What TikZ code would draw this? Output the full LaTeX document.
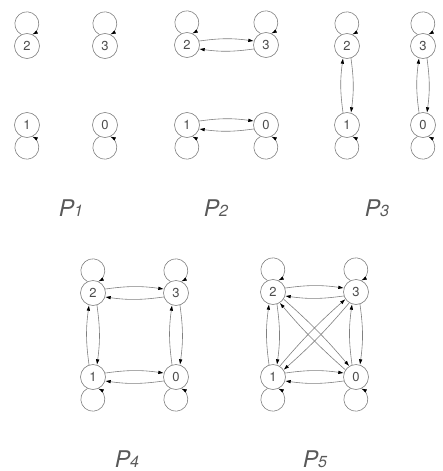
\documentclass[tikz,border=0pt]{standalone}
\usepackage{fontspec}
\setmainfont{TeX Gyre Heros}
\usetikzlibrary{arrows.meta}
\newcommand\looptop[1]{\draw[edge] (#1.116) arc[start angle=243,end angle=-63,radius=12];}
\newcommand\loopbot[1]{\draw[edge] (#1.244) arc[start angle=117,end angle=423,radius=12];}
% #1 node a, #2 node b, #3 direction angle a->b, #4 offset angle, #5 bend
\newcommand\bipair[5]{%
  \pgfmathtruncatemacro\bpSA{mod(#3+#4+720,360)}%
  \pgfmathtruncatemacro\bpEA{mod(#3+180-#4+720,360)}%
  \pgfmathtruncatemacro\bpSB{mod(#3+180+#4+720,360)}%
  \pgfmathtruncatemacro\bpEB{mod(#3-#4+720,360)}%
  \draw[edge] (#1.\bpSA) to[bend left=#5] (#2.\bpEA);
  \draw[edge] (#2.\bpSB) to[bend left=#5] (#1.\bpEB);}
\begin{document}
\begin{tikzpicture}[x=1pt,y=1pt,
  st/.style={circle, draw=black!50, line width=0.6pt, minimum size=25pt, inner sep=0pt,
    font=\fontsize{13}{13}\selectfont, text=black!70},
  edge/.style={draw=black!50, line width=0.6pt, -{Latex[length=5.5pt,width=3.6pt,black]}},
  lab/.style={anchor=base, text=black!65, font=\fontsize{23}{23}\selectfont\itshape}]
\useasboundingbox (0,0) rectangle (443,-471);
% P1
\node[st] (a2) at (27,-46) {2};
\node[st] (a3) at (105,-46) {3};
\node[st] (a1) at (27,-125) {1};
\node[st] (a0) at (105,-125) {0};
\looptop{a2}\looptop{a3}\loopbot{a1}\loopbot{a0}
% P2
\node[st] (b2) at (187,-45) {2};
\node[st] (b3) at (266,-45) {3};
\node[st] (b1) at (187,-125) {1};
\node[st] (b0) at (266,-125) {0};
\looptop{b2}\looptop{b3}\loopbot{b1}\loopbot{b0}
\bipair{b2}{b3}{0}{18}{8}
\bipair{b1}{b0}{0}{18}{8}
% P3
\node[st] (c2) at (347,-46) {2};
\node[st] (c3) at (423,-46) {3};
\node[st] (c1) at (347,-125) {1};
\node[st] (c0) at (423,-125) {0};
\looptop{c2}\looptop{c3}\loopbot{c1}\loopbot{c0}
\bipair{c1}{c2}{90}{18}{8}
\bipair{c0}{c3}{90}{18}{8}
% P4
\node[st] (d2) at (93,-293) {2};
\node[st] (d3) at (176,-293) {3};
\node[st] (d1) at (93,-377) {1};
\node[st] (d0) at (176,-377) {0};
\looptop{d2}\looptop{d3}\loopbot{d1}\loopbot{d0}
\bipair{d2}{d3}{0}{18}{8}
\bipair{d1}{d0}{0}{18}{8}
\bipair{d1}{d2}{90}{18}{8}
\bipair{d0}{d3}{90}{18}{8}
% P5
\node[st] (e2) at (273,-292) {2};
\node[st] (e3) at (356,-292) {3};
\node[st] (e1) at (273,-377) {1};
\node[st] (e0) at (356,-377) {0};
\looptop{e2}\looptop{e3}\loopbot{e1}\loopbot{e0}
\bipair{e2}{e3}{0}{18}{8}
\bipair{e1}{e0}{0}{18}{8}
\bipair{e1}{e2}{90}{18}{8}
\bipair{e0}{e3}{90}{18}{8}
\bipair{e2}{e0}{-46}{12}{4}
\bipair{e3}{e1}{226}{12}{4}
% labels
\node[lab] (l1) at (71,-216) {P{\fontsize{16}{16}\selectfont 1}};
\node[lab] (l2) at (216,-216) {P{\fontsize{16}{16}\selectfont 2}};
\node[lab] (l3) at (377,-216) {P{\fontsize{16}{16}\selectfont 3}};
\node[lab] (l4) at (127,-467) {P{\fontsize{16}{16}\selectfont 4}};
\node[lab] (l5) at (315,-467) {P{\fontsize{16}{16}\selectfont 5}};
\end{tikzpicture}
\end{document}
